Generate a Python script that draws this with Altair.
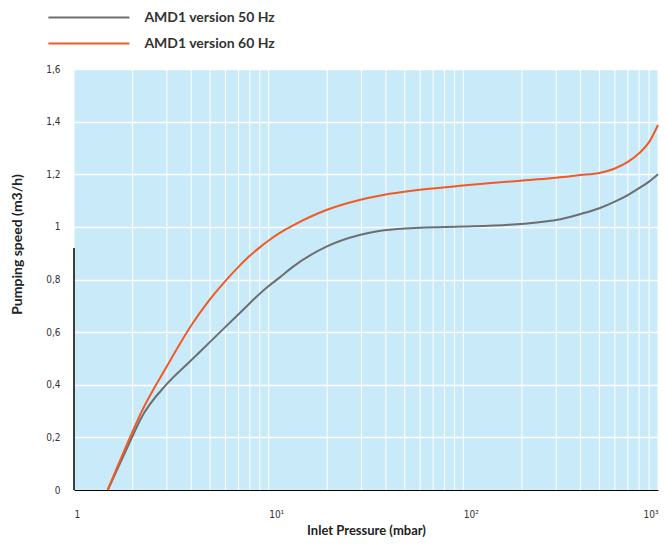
import altair as alt
import pandas as pd

# ---- data ----
series_names = ["AMD1 version 50 Hz", "AMD1 version 60 Hz"]
series_colors = ["#6d6e71", "#f15a24"]

p50 = [1.49, 1.98, 2.2, 3, 4, 5, 6, 7, 8, 9, 10, 11.4, 13.3, 19.8, 29.3, 39.3, 60, 100,
       172, 245, 300, 400, 500, 600, 700, 800, 900, 1000]
s50 = [0.0, 0.198, 0.27, 0.403, 0.493, 0.563, 0.62, 0.668, 0.71, 0.746, 0.775, 0.808,
       0.848, 0.925, 0.969, 0.987, 0.997, 1.001, 1.008, 1.018, 1.026, 1.049, 1.071,
       1.096, 1.121, 1.147, 1.172, 1.2]

p60 = [1.49, 1.98, 2.2, 3, 4, 5, 6, 7, 8, 9, 10, 11.4, 13.3, 19.8, 29.3, 39.3, 100,
       218, 300, 400, 500, 600, 700, 800, 900, 1000]
s60 = [0.0, 0.215, 0.29, 0.47, 0.625, 0.725, 0.795, 0.848, 0.89, 0.922, 0.948, 0.977,
       1.005, 1.064, 1.102, 1.122, 1.157, 1.178, 1.187, 1.197, 1.205, 1.222, 1.247,
       1.28, 1.322, 1.387]

x_major = [1, 10, 100, 1000]
y_ticks = [0, 0.2, 0.4, 0.6, 0.8, 1.0, 1.2, 1.4, 1.6]
x_grid = [m * d for d in [1, 10, 100] for m in range(1, 10)] + [1000]

left_marker_x = [1]
left_marker_top = [0.92]

# ---- tables ----
df = pd.concat([
    pd.DataFrame({"p": p50, "s": s50, "series": series_names[0], "o": range(len(p50))}),
    pd.DataFrame({"p": p60, "s": s60, "series": series_names[1], "o": range(len(p60))}),
])
grid_df = pd.DataFrame({"p": x_grid})
marker_df = pd.DataFrame({"p": left_marker_x, "y0": [0], "y1": left_marker_top})

label_font = "Liberation Sans Narrow, DejaVu Sans Condensed, Liberation Sans"
title_font = "Lato"

xscale = alt.Scale(type="log", domain=[1, 1000], nice=False)
yscale = alt.Scale(domain=[0, 1.6], nice=False)

grid = alt.Chart(grid_df).mark_rule(color="white", strokeWidth=1).encode(
    x=alt.X("p:Q", scale=xscale,
            axis=alt.Axis(values=x_major, grid=False, ticks=False, domain=True,
                          domainColor="black", domainWidth=1,
                          labelExpr="datum.value == 1 ? '1' : datum.value == 10 ? '10¹' : datum.value == 100 ? '10²' : '10³'",
                          labelAlign={"expr": "datum.value == 1000 ? 'right' : 'left'"},
                          labelPadding=19, labelFlush=False,
                          labelFont=label_font, labelFontSize=10, labelColor="#333",
                          title="Inlet Pressure (mbar)", titleFont=title_font,
                          titleFontSize=13, titleFontWeight="bold", titleColor="#222",
                          titlePadding=5)),
    y=alt.value(0),
    y2=alt.value(421),
)

lines = alt.Chart(df).mark_line(strokeWidth=2, interpolate="monotone").encode(
    x=alt.X("p:Q", scale=xscale),
    y=alt.Y("s:Q", scale=yscale,
            axis=alt.Axis(values=y_ticks, grid=True, gridColor="white", gridWidth=1.5,
                          ticks=False, domain=False,
                          labelExpr="replace(format(datum.value, '.1~f'), '.', ',')",
                          labelPadding=14, labelFont=label_font, labelFontSize=10,
                          labelColor="#333",
                          title="Pumping speed (m3/h)", titleFont=title_font,
                          titleFontSize=14, titleFontWeight="bold", titleColor="#222",
                          titleAngle=270, titleX=-57, titleY=175,
                          titleAlign="center", titleBaseline="middle")),
    color=alt.Color("series:N",
                    scale=alt.Scale(domain=series_names, range=series_colors),
                    legend=alt.Legend(title=None, orient="none", legendX=3.4, legendY=-63,
                                      symbolType="M-4,0H4", symbolSize=410,
                                      symbolStrokeWidth=2, symbolFillColor="transparent",
                                      labelFont=title_font,
                                      labelFontSize=14, labelFontWeight="bold",
                                      labelColor="#333", labelOffset=44,
                                      rowPadding=7)),
    order="o:Q",
)

marker = alt.Chart(marker_df).mark_rule(color="black", strokeWidth=1.5).encode(
    x=alt.X("p:Q", scale=xscale),
    y=alt.Y("y0:Q", scale=yscale),
    y2="y1:Q",
)

chart = alt.layer(grid, lines, marker).properties(
    width=584, height=421,
    autosize=alt.AutoSizeParams(type="none"),
    padding={"left": 66, "top": 61, "right": 1, "bottom": 50},
).configure_view(fill="#c9eaf9", stroke=None)

chart.save("out.html", embed_options={"renderer": "svg", "actions": False})
